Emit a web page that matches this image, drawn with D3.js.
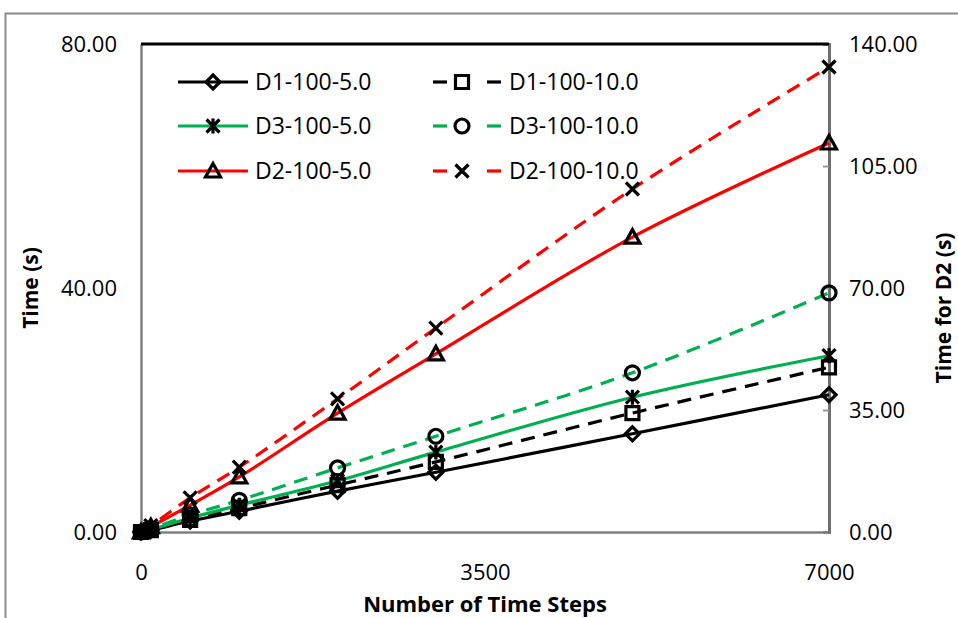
<!DOCTYPE html>
<html>
<head>
<meta charset="utf-8">
<script src="https://cdn.jsdelivr.net/npm/d3@7"></script>
<style>
  body { margin: 0; background: #fff; }
  svg text { font-family: "Open Sans", "Noto Sans", sans-serif; fill: #000; }
</style>
</head>
<body>
<div id="chart"></div>
<script>
// values
var steps = [0, 100, 500, 1000, 2000, 3000, 5000, 7000];
var d1_5  = [0, 0.3, 1.8, 3.4, 6.7, 9.8, 16.1, 22.5];
var d1_10 = [0, 0.3, 2.0, 3.9, 7.7, 11.5, 19.5, 27.0];
var d3_5  = [0, 0.4, 2.3, 4.4, 8.4, 13.1, 22.1, 28.9];
var d3_10 = [0, 0.5, 2.8, 5.2, 10.5, 15.7, 26.1, 39.2];
// D2 series are on the right axis
var d2_5  = [0, 1.5, 7.7, 15.8, 34.1, 51.1, 84.6, 111.6];
var d2_10 = [0, 1.8, 9.8, 18.6, 38.2, 58.5, 98.4, 133.4];

var xTicks = [0, 3500, 7000];
var yLeftTicks = [0, 40, 80];
var yRightTicks = [0, 35, 70, 105, 140];

var series = [
  {name: 'D1-100-5.0',  vals: d1_5,  color: '#000000', dash: null, marker: 'diamond',  axis: 'L'},
  {name: 'D1-100-10.0', vals: d1_10, color: '#000000', dash: '14,9', marker: 'square', axis: 'L'},
  {name: 'D3-100-5.0',  vals: d3_5,  color: '#00b050', dash: null, marker: 'star',     axis: 'L'},
  {name: 'D3-100-10.0', vals: d3_10, color: '#00b050', dash: '14,9', marker: 'circle', axis: 'L'},
  {name: 'D2-100-5.0',  vals: d2_5,  color: '#ff0000', dash: null, marker: 'triangle', axis: 'R'},
  {name: 'D2-100-10.0', vals: d2_10, color: '#ff0000', dash: '14,9', marker: 'x',      axis: 'R'}
];

var width = 958, height = 618;
var pLeft = 141, pRight = 829, pTop = 44, pBottom = 532;

var svg = d3.select('#chart').append('svg')
  .attr('width', width)
  .attr('height', height);

// outer chart frame
svg.append('rect')
  .attr('x', 5.5).attr('y', 13.5)
  .attr('width', 1000).attr('height', 700)
  .attr('fill', 'none')
  .attr('stroke', '#8c8c8c')
  .attr('stroke-width', 2);

var x = d3.scaleLinear().domain([0, 7000]).range([pLeft, pRight]);
var yL = d3.scaleLinear().domain([0, 80]).range([pBottom, pTop]);
var yR = d3.scaleLinear().domain([0, 140]).range([pBottom, pTop]);

// axes
var gL = svg.append('g').attr('transform', `translate(${pLeft},0)`)
  .call(d3.axisLeft(yL).tickValues(yLeftTicks).tickFormat(d3.format('.2f')).tickSize(0).tickPadding(24));
var gR = svg.append('g').attr('transform', `translate(${pRight},0)`)
  .call(d3.axisRight(yR).tickValues(yRightTicks).tickFormat(d3.format('.2f')).tickSize(-6).tickPadding(20));
var gB = svg.append('g').attr('transform', `translate(0,${pBottom})`)
  .call(d3.axisBottom(x).tickValues(xTicks).tickFormat(d3.format('d')).tickSize(0).tickPadding(32));

[gL, gR, gB].forEach(function(g) {
  g.selectAll('text').style('font-size', '22px').attr('font-family', null);
  g.selectAll('.tick line').attr('stroke', '#999').attr('stroke-width', 2);
  g.select('.domain').attr('stroke', '#7f7f7f').attr('stroke-width', 2.5);
});
gR.select('.domain').attr('stroke', '#6e6e6e').attr('stroke-width', 3);
gL.selectAll('text').attr('dy', '0.36em');
gR.selectAll('text').attr('dy', '0.36em');

// top border line
svg.append('line')
  .attr('x1', pLeft).attr('x2', pRight)
  .attr('y1', pTop).attr('y2', pTop)
  .attr('stroke', '#000').attr('stroke-width', 3);

// axis titles
svg.append('text')
  .attr('x', x(3500)).attr('y', 612)
  .attr('text-anchor', 'middle')
  .style('font-size', '22px').style('font-weight', 'bold')
  .text('Number of Time Steps');
svg.append('text')
  .attr('transform', `translate(38,${(pTop + pBottom) / 2}) rotate(-90)`)
  .attr('text-anchor', 'middle')
  .style('font-size', '21px').style('font-weight', 'bold')
  .text('Time (s)');
svg.append('text')
  .attr('transform', `translate(951,${(pTop + pBottom) / 2 + 20}) rotate(-90)`)
  .attr('text-anchor', 'middle')
  .style('font-size', '21px').style('font-weight', 'bold')
  .text('Time for D2 (s)');

function markerPath(type, cx, cy) {
  var p = d3.path();
  var s;
  if (type === 'diamond') {
    s = 7;
    p.moveTo(cx, cy - s); p.lineTo(cx + s, cy); p.lineTo(cx, cy + s); p.lineTo(cx - s, cy); p.closePath();
  } else if (type === 'square') {
    s = 6.5;
    p.rect(cx - s, cy - s, 2 * s, 2 * s);
  } else if (type === 'circle') {
    p.arc(cx, cy, 7, 0, 2 * Math.PI);
  } else if (type === 'triangle') {
    s = 7.5;
    p.moveTo(cx, cy - s); p.lineTo(cx + s, cy + s * 0.8); p.lineTo(cx - s, cy + s * 0.8); p.closePath();
  } else if (type === 'x') {
    s = 6.5;
    p.moveTo(cx - s, cy - s); p.lineTo(cx + s, cy + s);
    p.moveTo(cx + s, cy - s); p.lineTo(cx - s, cy + s);
  } else if (type === 'star') {
    s = 6.5;
    p.moveTo(cx - s, cy - s); p.lineTo(cx + s, cy + s);
    p.moveTo(cx + s, cy - s); p.lineTo(cx - s, cy + s);
    p.moveTo(cx, cy - s - 1); p.lineTo(cx, cy + s + 1);
  }
  return p.toString();
}

// lines
var plot = svg.append('g');
series.forEach(function(s) {
  var y = s.axis === 'L' ? yL : yR;
  var pts = steps.map(function(st, i) { return [x(st), y(s.vals[i])]; });
  plot.append('path')
    .datum(pts)
    .attr('fill', 'none')
    .attr('stroke', s.color)
    .attr('stroke-width', 3.2)
    .attr('stroke-dasharray', s.dash)
    .attr('d', d3.line().curve(d3.curveCatmullRom.alpha(0.5)));
});
// markers on top
series.forEach(function(s) {
  var y = s.axis === 'L' ? yL : yR;
  plot.selectAll(null)
    .data(steps.map(function(st, i) { return [x(st), y(s.vals[i])]; }))
    .enter()
    .append('path')
    .attr('d', function(d) { return markerPath(s.marker, d[0], d[1]); })
    .attr('fill', 'none')
    .attr('stroke', '#000')
    .attr('stroke-width', 3.2);
});

// legend
var legend = svg.append('g');
var colX = [178, 433];
var rowY = [82, 126, 171];
series.forEach(function(s, i) {
  var cx = colX[i % 2], cy = rowY[Math.floor(i / 2)];
  var g = legend.append('g');
  if (s.dash) {
    g.append('line').attr('x1', cx).attr('x2', cx + 14).attr('y1', cy).attr('y2', cy)
      .attr('stroke', s.color).attr('stroke-width', 3.2);
    g.append('line').attr('x1', cx + 54).attr('x2', cx + 68).attr('y1', cy).attr('y2', cy)
      .attr('stroke', s.color).attr('stroke-width', 3.2);
    g.append('path').attr('d', markerPath(s.marker, cx + 29, cy))
      .attr('fill', 'none').attr('stroke', '#000').attr('stroke-width', 3.2);
    g.append('text').attr('x', cx + 76).attr('y', cy).attr('dy', '0.35em')
      .style('font-size', '23px').text(s.name);
  } else {
    g.append('line').attr('x1', cx).attr('x2', cx + 70).attr('y1', cy).attr('y2', cy)
      .attr('stroke', s.color).attr('stroke-width', 3.2);
    g.append('path').attr('d', markerPath(s.marker, cx + 35, cy))
      .attr('fill', 'none').attr('stroke', '#000').attr('stroke-width', 3.2);
    g.append('text').attr('x', cx + 77).attr('y', cy).attr('dy', '0.35em')
      .style('font-size', '23px').text(s.name);
  }
});
</script>
</body>
</html>
